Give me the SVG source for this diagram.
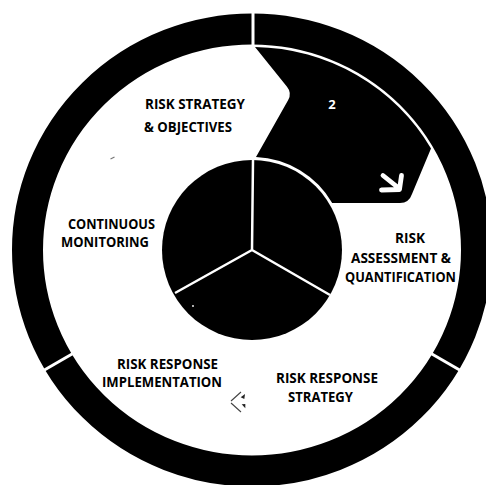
<svg xmlns="http://www.w3.org/2000/svg" width="486" height="485" viewBox="0 0 486 485">
<style>
.lbl{font-family:"Open Sans","Liberation Sans",sans-serif;font-weight:700;font-size:14px;fill:#000}
.gap{stroke:#fff;stroke-width:3;fill:none}
.div{stroke:#fff;stroke-width:2.5;fill:none}
</style>
<rect width="486" height="485" fill="#fff"/>
<g id="ring">
<ellipse cx="252" cy="250" rx="224.5" ry="221" fill="none" stroke="#000" stroke-width="31"/>
<line class="gap" x1="253" y1="2" x2="253" y2="48"/>
<line class="gap" x1="425" y1="350" x2="470" y2="376"/>
<line class="gap" x1="79" y1="350" x2="34" y2="376"/>
</g>
<g id="hub">
<circle cx="252" cy="250" r="90" fill="#000"/>
<path class="div" d="M252,250 L253,160 M252,250 L175,293 M252,250 L330,295"/>
<circle cx="193" cy="306" r="0.9" fill="#fff"/>
</g>
<g id="step2">
<path d="M255,47 A207 203 0 0 1 431,148.5 L412,194 Q409,203 400,203 L332.2,203 A93 93 0 0 0 256,157.1 L288.2,100 Q292,93 287,86.8 Z" fill="#000"/>
<text x="332" y="109" text-anchor="middle" style="font-family:'Open Sans','Liberation Sans',sans-serif;font-weight:700;font-size:13px;fill:#fff">2</text>
<path d="M383,175.5 L398,187.5 M401.5,175.5 L399.5,189.5 L381.5,190" stroke="#fff" stroke-width="4.8" stroke-linecap="round" stroke-linejoin="round" fill="none"/>
</g>
<g id="step1">
<text class="lbl" x="145" y="109" textLength="100" lengthAdjust="spacingAndGlyphs">RISK STRATEGY</text>
<text class="lbl" x="144" y="132" textLength="88" lengthAdjust="spacingAndGlyphs">&amp; OBJECTIVES</text>
<line x1="110.5" y1="159" x2="114.5" y2="157" stroke="#777" stroke-width="1.2"/>
</g>
<g id="step3">
<text class="lbl" x="395" y="243" textLength="30" lengthAdjust="spacingAndGlyphs">RISK</text>
<text class="lbl" x="351" y="263" textLength="100" lengthAdjust="spacingAndGlyphs">ASSESSMENT &amp;</text>
<text class="lbl" x="345" y="282" textLength="111" lengthAdjust="spacingAndGlyphs">QUANTIFICATION</text>
</g>
<g id="step4">
<text class="lbl" x="276" y="383" textLength="102" lengthAdjust="spacingAndGlyphs">RISK RESPONSE</text>
<text class="lbl" x="288" y="402" textLength="65" lengthAdjust="spacingAndGlyphs">STRATEGY</text>
</g>
<g id="step5">
<text class="lbl" x="117" y="369" textLength="101" lengthAdjust="spacingAndGlyphs">RISK RESPONSE</text>
<text class="lbl" x="102" y="387" textLength="120" lengthAdjust="spacingAndGlyphs">IMPLEMENTATION</text>
</g>
<g id="step6">
<text class="lbl" x="68" y="229" textLength="87" lengthAdjust="spacingAndGlyphs">CONTINUOUS</text>
<text class="lbl" x="61" y="247" textLength="88" lengthAdjust="spacingAndGlyphs">MONITORING</text>
</g>
<g id="connectors">
<path d="M241,392 L231,401 M231,403 L241,412" stroke="#444" stroke-width="1.1" fill="none"/>
<polygon points="245,394 240.7,397.3 244.3,399" fill="#222"/>
<polygon points="241.7,404.3 245.3,404 245.3,408.3" fill="#222"/>
</g>
</svg>
